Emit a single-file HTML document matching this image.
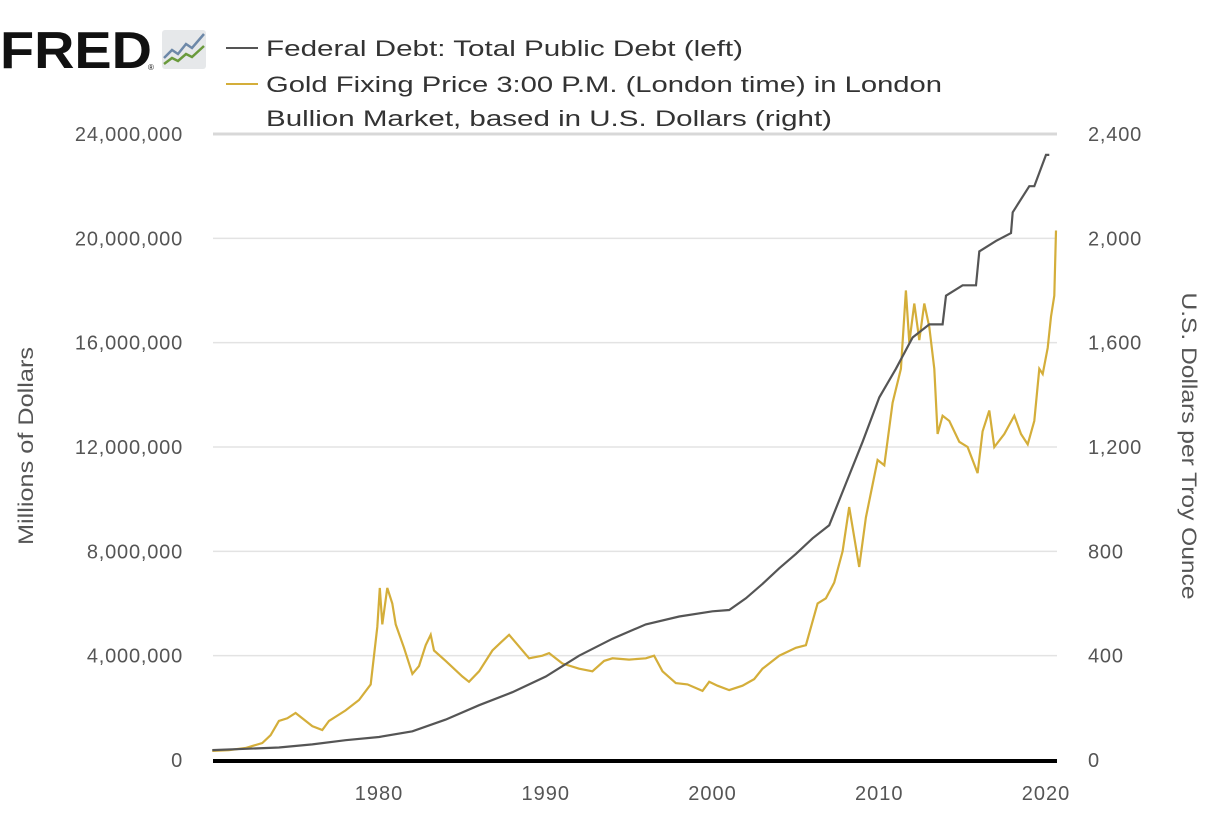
<!DOCTYPE html>
<html><head><meta charset="utf-8">
<style>
body{margin:0;background:#fff;font-family:"Liberation Sans",sans-serif;}
svg text{font-family:"Liberation Sans",sans-serif;}
</style></head>
<body>
<svg id="chart" width="1230" height="826" viewBox="0 0 1230 826">
  <g>
    <text x="0" y="68" font-size="52" font-weight="bold" fill="#111" textLength="152" lengthAdjust="spacingAndGlyphs">FRED</text>
    <text x="148" y="70" font-size="8" fill="#111">®</text>
    <rect x="162" y="30" width="44" height="39" rx="3" fill="#e6e8ea"/>
    <polyline points="164,58 172,50 178,54 186,44 192,48 204,34" fill="none" stroke="#6d88a8" stroke-width="2.5"/>
    <polyline points="164,64 172,58 178,61 186,54 192,57 204,46" fill="none" stroke="#6a9a3c" stroke-width="2.5"/>
  </g>
  <g>
    <line x1="226" y1="48" x2="258" y2="48" stroke="#555" stroke-width="2"/>
    <text x="266" y="56" font-size="22" fill="#333" textLength="477" lengthAdjust="spacingAndGlyphs">Federal Debt: Total Public Debt (left)</text>
    <line x1="226" y1="84" x2="258" y2="84" stroke="#d4ae3a" stroke-width="2"/>
    <text x="266" y="92" font-size="22" fill="#333" textLength="676" lengthAdjust="spacingAndGlyphs">Gold Fixing Price 3:00 P.M. (London time) in London</text>
    <text x="266" y="126" font-size="22" fill="#333" textLength="566" lengthAdjust="spacingAndGlyphs">Bullion Market, based in U.S. Dollars (right)</text>
  </g>
  <g id="grid"></g>
  <g id="ylabs"></g>
  <g id="xlabs"></g>
  <text transform="translate(33,446) rotate(-90)" text-anchor="middle" font-size="21" fill="#555" textLength="198" lengthAdjust="spacingAndGlyphs">Millions of Dollars</text>
  <text transform="translate(1182,446) rotate(90)" text-anchor="middle" font-size="21" fill="#555" textLength="307" lengthAdjust="spacingAndGlyphs">U.S. Dollars per Troy Ounce</text>
  <path id="goldLine" fill="none" stroke="#d4ae3a" stroke-width="2.2"/>
  <path id="debtLine" fill="none" stroke="#555" stroke-width="2.2"/>
  <line x1="213" y1="761" x2="1057" y2="761" stroke="#000" stroke-width="4"/>
</svg>
<script>
const debtYears = [1970,1972,1974,1976,1978,1980,1982,1984,1986,1988,1990,1992,1994,1996,1998,2000,2001,2002,2003,2004,2005,2006,2007,2008,2009,2010,2011,2012,2013,2013.8,2014,2015,2015.8,2016,2017,2017.9,2018,2019,2019.3,2020,2020.2];
const debtValues = [0.38,0.43,0.48,0.6,0.76,0.88,1.1,1.55,2.1,2.6,3.2,4.0,4.65,5.2,5.5,5.7,5.75,6.2,6.75,7.35,7.9,8.5,9.0,10.6,12.2,13.9,15.0,16.2,16.7,16.7,17.8,18.2,18.2,19.5,19.9,20.2,21.0,22.0,22.0,23.2,23.2];
const goldYears = [1970,1971,1972,1973,1973.5,1974,1974.5,1975,1976,1976.6,1977,1978,1978.8,1979.5,1979.9,1980.05,1980.2,1980.5,1980.8,1981,1981.5,1982,1982.4,1982.8,1983.1,1983.3,1984,1985,1985.4,1986,1986.8,1987.3,1987.8,1988.2,1989,1989.8,1990.2,1991,1992,1992.8,1993.5,1994,1995,1996,1996.5,1997,1997.8,1998.5,1999.4,1999.8,2000.3,2001,2001.8,2002.5,2003,2004,2005,2005.6,2006.3,2006.8,2007.3,2007.8,2008.2,2008.8,2009.2,2009.9,2010.3,2010.8,2011.3,2011.6,2011.8,2012.1,2012.4,2012.7,2013,2013.3,2013.5,2013.8,2014.2,2014.8,2015.3,2015.9,2016.2,2016.6,2016.9,2017.5,2018.1,2018.5,2018.9,2019.3,2019.6,2019.8,2020.1,2020.3,2020.5,2020.6];
const goldValues = [35,38,46,65,95,150,160,180,130,115,150,190,230,290,510,660,520,660,600,520,430,330,360,440,480,420,380,320,300,340,420,450,480,450,390,400,410,370,350,340,380,390,385,390,400,340,295,290,265,300,285,268,285,310,350,400,430,440,600,620,680,800,970,740,930,1150,1130,1370,1500,1800,1600,1750,1610,1750,1660,1500,1250,1320,1300,1220,1200,1100,1260,1340,1200,1250,1320,1250,1210,1300,1500,1480,1580,1700,1780,2030];
const yLeftTicks = [0,4,8,12,16,20,24];
const yLeftLabels = ["0","4,000,000","8,000,000","12,000,000","16,000,000","20,000,000","24,000,000"];
const yRightLabels = ["0","400","800","1,200","1,600","2,000","2,400"];
const xTicks = [1980,1990,2000,2010,2020];

const X0=213, X1=1057, Y0=760, YT=134;
const xs = yr => 212.25 + (yr-1970)*16.675;
const yL = m => Y0 - m/24*(Y0-YT);
const yR = g => Y0 - g/2400*(Y0-YT);
const NS="http://www.w3.org/2000/svg";
const grid=document.getElementById('grid'), ylabs=document.getElementById('ylabs'), xlabs=document.getElementById('xlabs');
yLeftTicks.forEach((t,i)=>{
  const y=yL(t);
  if(i>0){
    const l=document.createElementNS(NS,'line');
    l.setAttribute('x1',X0);l.setAttribute('x2',X1);l.setAttribute('y1',y);l.setAttribute('y2',y);
    l.setAttribute('stroke', i===yLeftTicks.length-1?'#d8d8d8':'#e3e3e3');
    l.setAttribute('stroke-width', i===yLeftTicks.length-1?3:1.5);
    
    
    grid.appendChild(l);
  }
  const a=document.createElementNS(NS,'text');
  a.setAttribute('x',183);a.setAttribute('y',y+7);a.setAttribute('text-anchor','end');
  a.setAttribute('font-size','20');a.setAttribute('fill','#555');a.setAttribute('letter-spacing','0.8');a.textContent=yLeftLabels[i];
  
  
  ylabs.appendChild(a);
  const b=document.createElementNS(NS,'text');
  b.setAttribute('x',1088);b.setAttribute('y',y+7);
  b.setAttribute('font-size','20');b.setAttribute('fill','#555');b.setAttribute('letter-spacing','0.8');b.textContent=yRightLabels[i];
  
  
  ylabs.appendChild(b);
});
xTicks.forEach(t=>{
  const a=document.createElementNS(NS,'text');
  a.setAttribute('x',xs(t));a.setAttribute('y',800);a.setAttribute('text-anchor','middle');
  a.setAttribute('font-size','20');a.setAttribute('fill','#555');a.setAttribute('letter-spacing','1');a.textContent=t;
  
  
  xlabs.appendChild(a);
});
document.getElementById('debtLine').setAttribute('d', debtYears.map((yr,i)=>(i?'L':'M')+xs(yr).toFixed(1)+','+yL(debtValues[i]).toFixed(1)).join(''));
document.getElementById('goldLine').setAttribute('d', goldYears.map((yr,i)=>(i?'L':'M')+xs(yr).toFixed(1)+','+yR(goldValues[i]).toFixed(1)).join(''));
</script>
</body></html>
